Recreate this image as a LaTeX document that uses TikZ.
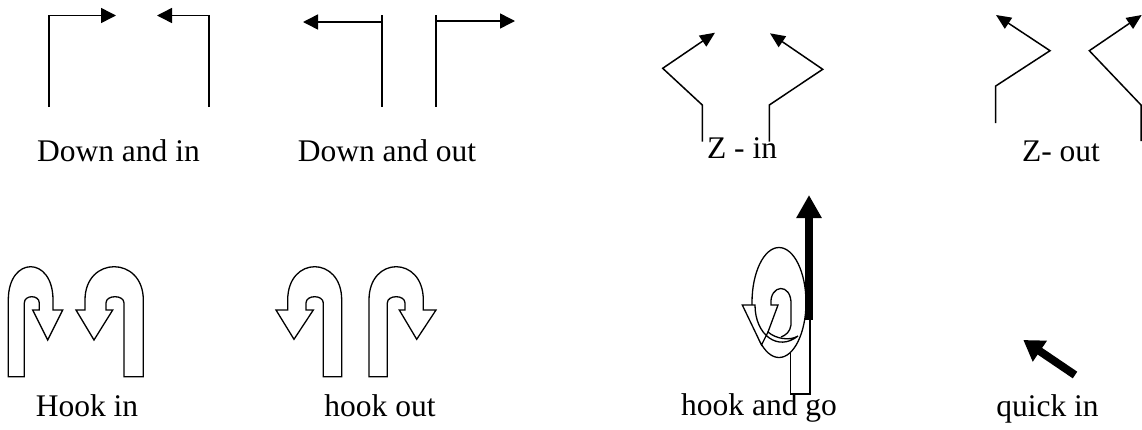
\documentclass[tikz,border=0pt]{standalone}
\usepackage{fontspec}
\setmainfont{Liberation Serif}
\usetikzlibrary{arrows.meta}
\begin{document}
\begin{tikzpicture}[x=1pt,y=-1pt, line width=1.5pt,
  tri/.style={-{Triangle[length=15pt,width=15pt]}},
  ztri/.style={-{Triangle[length=15pt,width=13pt]}},
  lbl/.style={font=\fontsize{31.5}{36}\selectfont, anchor=base, inner sep=0pt},
  hookshape/.style={draw, fill=white, line width=1.3pt, line join=miter},
  hookline/.style={draw, line width=1.3pt},
  bold/.style={line width=8pt}]
\useasboundingbox (0,0) rectangle (1142,429);

% Down and in
\draw[tri] (49,107) -- (49,15.5) -- (116,15.5);
\draw[tri] (209,107) -- (209,15.5) -- (157,15.5);
\node[lbl] (l1) at (118.5,161.7) {Down and in};

% Down and out
\draw (382,15) -- (382,107);
\draw[tri] (382,22) -- (303,22);
\draw (436,15) -- (436,107);
\draw[tri] (436,21) -- (515,21);
\node[lbl] (l2) at (387,161.7) {Down and out};

% Z - in
\draw[ztri] (702.3,141.7) -- (702.3,105) -- (662.7,68.3) -- (715,32.7);
\draw[ztri] (769.3,141.7) -- (769.3,105) -- (822.7,69.3) -- (770,33.3);
\node[lbl] (l3) at (742,158.3) {Z - in};

% Z- out
\draw[ztri] (995.7,123) -- (995.7,86) -- (1050,50.7) -- (996,15);
\draw[ztri] (1141,141) -- (1141,105) -- (1089.3,50.7) -- (1141.7,15);
\node[lbl] (l4) at (1061,161.7) {Z- out};

% Hook in
\draw[hookshape] (8.3,376.7) -- (8.3,300) .. controls (8.3,255.6) and (53,255.6) .. (53,300)
  -- (53,310) -- (62.7,310) -- (47.7,340) -- (32.7,310) -- (39.3,310) -- (39.3,303)
  .. controls (39.3,294.6) and (24.3,294.6) .. (24.3,303) -- (24.3,376.7) -- cycle;
\draw[hookshape] (143.3,376.7) -- (143.3,300) .. controls (143.3,255.6) and (85,255.6) .. (85,300)
  -- (85,310) -- (76,310) -- (94,340) -- (112.7,310) -- (106,310) -- (106,303)
  .. controls (106,294.6) and (124,294.6) .. (124,303) -- (124,376.7) -- cycle;
\node[lbl] (l5) at (87,416.7) {Hook in};

% hook out
\draw[hookshape] (341.7,376.7) -- (341.7,300) .. controls (341.7,255.6) and (287.7,255.6) .. (287.7,300)
  -- (287.7,310) -- (276,310) -- (294,339.3) -- (313.3,310) -- (306,310) -- (306,303)
  .. controls (306,294.6) and (323.3,294.6) .. (323.3,303) -- (323.3,376.7) -- cycle;
\draw[hookshape] (369,376.7) -- (369,300) .. controls (369,255.6) and (423.3,255.6) .. (423.3,300)
  -- (423.3,310) -- (436,310) -- (416.7,339.3) -- (399.3,310) -- (405,310) -- (405,303)
  .. controls (405,294.6) and (387.3,294.6) .. (387.3,303) -- (387.3,376.7) -- cycle;
\node[lbl] (l6) at (380,416.7) {hook out};

% hook and go
\draw[hookshape] (790.7,310) rectangle (810,394);
\draw[hookshape] (779,302.5) ellipse [x radius=27, y radius=55];
\draw[hookshape] (742.3,305) -- (755,305) .. controls (755,335) and (778,352) .. (798,336)
  .. controls (790,341) and (776,339) .. (768,332) -- (761.5,345) -- cycle;
\draw[hookline] (768,332) -- (778,305) -- (771,305)
  .. controls (769,284) and (792,282) .. (791,305) -- (791,325)
  .. controls (790,332) and (786,335) .. (781,337);
\draw[bold, -{Triangle[length=23pt,width=24pt]}] (809,320) -- (809,195);
\node[lbl] (l7) at (759,415) {hook and go};

% quick in
\draw[bold, -{Triangle[length=20pt,width=24pt]}] (1075,375) -- (1023.3,340);
\node[lbl] (l8) at (1047.5,416.7) {quick in};
\end{tikzpicture}
\end{document}
